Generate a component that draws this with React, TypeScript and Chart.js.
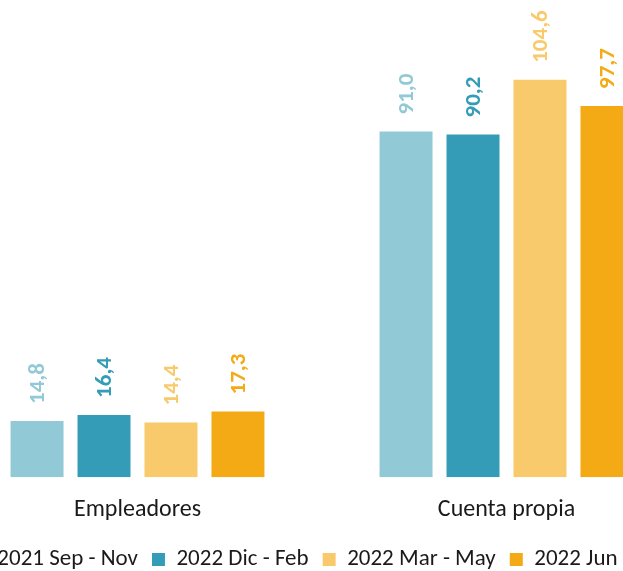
import React, { useEffect, useRef } from "react";
import { Chart, registerables } from "chart.js";

Chart.register(...registerables);

const categories = ["Empleadores", "Cuenta propia"];
const seriesLabels = ["2021 Sep - Nov", "2022 Dic - Feb", "2022 Mar - May", "2022 Jun - Ago"];
const sepNov = [14.8, 91.0];
const dicFeb = [16.4, 90.2];
const marMay = [14.4, 104.6];
const junAgo = [17.3, 97.7];
const colors = ["#92C9D6", "#349CB6", "#F8CA6B", "#F4AA14"];

const FONT = "Carlito, Lato, 'Open Sans', sans-serif";

const valueLabels = {
  id: "valueLabels",
  afterDatasetsDraw(chart: any) {
    const ctx = chart.ctx;
    chart.data.datasets.forEach((ds: any, i: number) => {
      const meta = chart.getDatasetMeta(i);
      meta.data.forEach((bar: any, j: number) => {
        const v = ds.data[j] as number;
        ctx.save();
        ctx.translate(bar.x, bar.y - 17);
        ctx.rotate(-Math.PI / 2);
        ctx.textAlign = "left";
        ctx.textBaseline = "middle";
        ctx.font = `bold 23px ${FONT}`;
        ctx.fillStyle = colors[i];
        ctx.fillText(v.toFixed(1).replace(".", ","), 0, 1);
        ctx.restore();
      });
    });
  },
};

export default function App() {
  const ref = useRef<HTMLCanvasElement>(null);
  useEffect(() => {
    if (!ref.current) return;
    const series = [sepNov, dicFeb, marMay, junAgo];
    const chart = new Chart(ref.current, {
      type: "bar",
      data: {
        labels: categories,
        datasets: series.map((d, i) => ({
          label: seriesLabels[i],
          data: d,
          backgroundColor: colors[i],
          borderWidth: 0,
          categoryPercentage: 0.726,
          barPercentage: 0.791,
        })),
      },
      options: {
        animation: false,
        responsive: false,
        layout: { padding: 0 },
        plugins: {
          tooltip: { enabled: false },
          legend: {
            position: "bottom",
            labels: {
              boxWidth: 13,
              boxHeight: 13,
              padding: 14,
              color: "#1a1a1a",
              font: { family: FONT, size: 23 },
            },
          },
        },
        scales: {
          x: {
            grid: { display: false },
            border: { display: false },
            ticks: { color: "#1a1a1a", font: { family: FONT, size: 24 }, padding: 10 },
          },
          y: { display: false, min: 0, max: 125.6 },
        },
      },
      plugins: [valueLabels],
    });
    return () => chart.destroy();
  }, []);
  return (
    <div style={{ position: "fixed", left: 0, top: 0, width: 623, height: 571, overflow: "hidden", background: "#fff" }}>
      <canvas ref={ref} width={738} height={581} style={{ position: "absolute", left: -47, top: 0 }} />
    </div>
  );
}
